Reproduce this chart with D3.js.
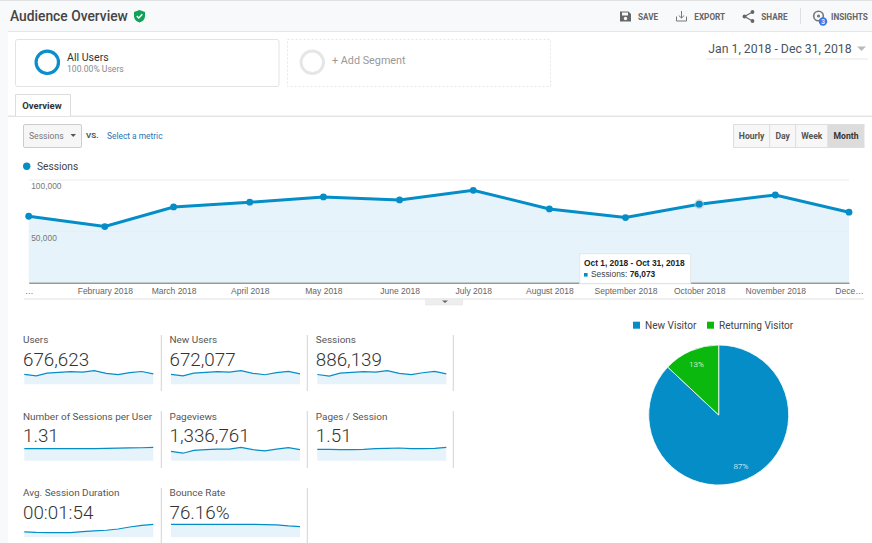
<!DOCTYPE html>
<html>
<head>
<meta charset="utf-8">
<script src="https://cdn.jsdelivr.net/npm/d3@7"></script>
<style>
html, body { margin: 0; padding: 0; background: #fff; overflow: hidden; }
text { font-family: Roboto, sans-serif; }
.gc text, .gc { font-family: "Liberation Sans", Arial, sans-serif; }
</style>
</head>
<body>
<div id="chart"></div>
<script>
// monthly data
const months = ['2018-01-01','2018-02-01','2018-03-01','2018-04-01','2018-05-01','2018-06-01','2018-07-01','2018-08-01','2018-09-01','2018-10-01','2018-11-01','2018-12-01']
const monthLabels = ['…','February 2018','March 2018','April 2018','May 2018','June 2018','July 2018','August 2018','September 2018','October 2018','November 2018','Dece…']
const sessions = [64400,54400,73400,78000,83100,80200,89500,71500,63100,76073,85000,68300]
const yTicks = [50000,100000]

const users = [50000,42000,56000,60000,63000,61000,68000,55000,48000,58000,64000,52000]
const newUsers = [49500,41500,55500,59500,62500,60500,67500,54500,47500,57500,64000,52000]
const sessionsPerUser = [1.27,1.27,1.27,1.27,1.27,1.27,1.29,1.31,1.33,1.35,1.37,1.42]
const pageviews = [94000,76000,105000,112000,118000,118000,136000,112000,100000,118000,132000,112000]
const pagesPerSession = [1.44,1.44,1.40,1.40,1.44,1.53,1.57,1.61,1.53,1.53,1.57,1.70]
const avgDuration = [85,77,75,75,75,91,101,112,132,164,191,207]
const bounceRate = [78,78,78,78,78,78,78,78,76,74,68,64]

const metricNames = ['Users','New Users','Sessions','Number of Sessions per User','Pageviews','Pages / Session','Avg. Session Duration','Bounce Rate']
const metricTotals = ['676,623','672,077','886,139','1.31','1,336,761','1.51','00:01:54','76.16%']
const metricSeries = [users,newUsers,sessions,sessionsPerUser,pageviews,pagesPerSession,avgDuration,bounceRate]

const visitorTypes = ['New Visitor','Returning Visitor']
const visitorShare = [87,13]
const intervals = ['Hourly','Day','Week','Month']

const blue = '#058dc7', paleBlue = '#e6f3fb', green = '#0ab80e'
const dates = months.map(d=>new Date(d + 'T00:00:00'))

const svg = d3.select('#chart').append('svg')
    .attr('width', 872)
    .attr('height', 543)
    .style('display', 'block')

// page chrome
svg.append('rect').attr('width',872).attr('height',543).attr('fill','#fff')
svg.append('rect').attr('width',8).attr('height',543).attr('fill','#f8f9fa')
svg.append('rect').attr('width',872).attr('height',31.5).attr('fill','#f8f9fa')
svg.append('rect').attr('width',872).attr('height',1).attr('fill','#dfe1e3')
svg.append('rect').attr('x',8).attr('y',31).attr('width',864).attr('height',1).attr('fill','#e6e6e6')

function label(x, y, str, size, color, weight, anchor){
    return svg.append('text')
    .attr('x', x)
    .attr('y', y)
    .attr('font-size', size)
    .attr('fill', color)
    .attr('font-weight', weight || 400)
    .attr('text-anchor', anchor || 'start')
    .text(str)
}

label(10, 21, 'Audience Overview', 13.8, '#444', 500)
svg.append('path')
    .attr('d','M139.5 10 L145 12 V16 C145 19.5 142.5 21.5 139.5 22.5 C136.5 21.5 134 19.5 134 16 V12 Z')
    .attr('fill','#12a15b')
svg.append('path')
    .attr('d','M136.8 16 L138.8 18 L142.3 14.3')
    .attr('fill','none').attr('stroke','#fff').attr('stroke-width',1.4)

// save / export / share / insights
svg.append('path')
    .attr('d','M620 11.5 H628.5 L631 14 V21.5 H620 Z M622 12.5 V15.5 H628 V12.5 Z')
    .attr('fill','#666').attr('fill-rule','evenodd')
svg.append('circle').attr('cx',625.5).attr('cy',18.5).attr('r',1.7).attr('fill','#f8f9fa')
label(638, 20, 'SAVE', 8.2, '#666', 700)
svg.append('path')
    .attr('d','M676.5 16.5 V21 H686.5 V16.5 M681.5 11 V18 M678.8 15.5 L681.5 18 L684.2 15.5')
    .attr('fill','none').attr('stroke','#777').attr('stroke-width',1)
label(694.3, 20, 'EXPORT', 8.2, '#666', 700)
svg.append('path')
    .attr('d','M752.5 12 L744.5 16.5 L752.5 21')
    .attr('fill','none').attr('stroke','#666').attr('stroke-width',1.1)
svg.selectAll('.share-dot')
    .data([[752.5,12],[744.5,16.5],[752.5,21]])
    .enter()
    .append('circle')
    .attr('cx', d=>d[0]).attr('cy', d=>d[1]).attr('r',1.9).attr('fill','#666')
label(761.3, 20, 'SHARE', 8.2, '#666', 700)
svg.append('rect').attr('x',800).attr('y',8).attr('width',1).attr('height',16).attr('fill','#e0e0e0')
svg.append('circle').attr('cx',818.5).attr('cy',16).attr('r',4.8).attr('fill','none').attr('stroke','#777').attr('stroke-width',1.6)
svg.append('circle').attr('cx',818.5).attr('cy',16).attr('r',1.6).attr('fill','#777')
svg.append('circle').attr('cx',823).attr('cy',21.5).attr('r',4.2).attr('fill','#3b78e7')
label(823, 23.8, '3', 6.5, '#fff', 500, 'middle')
label(831, 20, 'INSIGHTS', 8.2, '#666', 700)

// segments
svg.append('rect').attr('x',15.5).attr('y',39.5).attr('width',263.5).attr('height',47)
    .attr('rx',2).attr('fill','#fff').attr('stroke','#e3e3e3')
svg.append('circle').attr('cx',47.3).attr('cy',62.3).attr('r',11.2)
    .attr('fill','none').attr('stroke','#0b8ecb').attr('stroke-width',3.2)
label(67, 60.5, 'All Users', 10.6, '#333')
label(67, 71.5, '100.00% Users', 8.6, '#8a8a8a')
svg.append('rect').attr('x',287.5).attr('y',39.5).attr('width',263).attr('height',47)
    .attr('fill','#fff').attr('stroke','#e6e6e6').attr('stroke-dasharray','2,2')
svg.append('circle').attr('cx',312.3).attr('cy',62.3).attr('r',11.2)
    .attr('fill','none').attr('stroke','#e6e6e6').attr('stroke-width',3)
label(332, 64.3, '+ Add Segment', 10.8, '#999')

// date range
label(708.3, 52.8, 'Jan 1, 2018 - Dec 31, 2018', 12.25, '#4a5560')
svg.append('path').attr('d','M857 46.5 H866 L861.5 51 Z').attr('fill','#bbb')
svg.append('rect').attr('x',706).attr('y',58.5).attr('width',162).attr('height',1).attr('fill','#e8e8e8')

// tab
svg.append('rect').attr('x',8).attr('y',115.5).attr('width',864).attr('height',1.5).attr('fill','#e4e4e4')
svg.append('path').attr('d','M15.5 116 V94.5 H70.5 V116').attr('fill','#fff').attr('stroke','#dcdcdc')
label(22.3, 108.8, 'Overview', 9.5, '#333', 700)

// metric dropdown
svg.append('rect').attr('x',23.5).attr('y',124.5).attr('width',58).attr('height',23)
    .attr('rx',1.5).attr('fill','#f6f6f6').attr('stroke','#ccc')
label(29, 138.8, 'Sessions', 8.6, '#777')
svg.append('path').attr('d','M70.5 134 H76 L73.2 137 Z').attr('fill','#555')
label(86, 138, 'VS.', 8, '#555', 700)
label(107, 138.8, 'Select a metric', 8.4, '#2a75b3')

// interval buttons
const btnEdges = [733.5,769.7,795.7,828,864]
svg.selectAll('.btn')
    .data(intervals)
    .enter()
    .append('rect')
    .attr('class','btn')
    .attr('x', (d,i)=>btnEdges[i])
    .attr('y', 124.5)
    .attr('width', (d,i)=>btnEdges[i+1]-btnEdges[i])
    .attr('height', 23)
    .attr('fill', d=> d == 'Month' ? '#dcdcdc' : '#f7f7f7')
    .attr('stroke', '#dedede')
svg.selectAll('.btn-text')
    .data(intervals)
    .enter()
    .append('text')
    .attr('x', (d,i)=>(btnEdges[i]+btnEdges[i+1])/2)
    .attr('y', 138.8)
    .attr('text-anchor','middle')
    .attr('font-size', 8.6)
    .attr('font-weight', 700)
    .attr('fill', d=> d == 'Month' ? '#333' : '#555')
    .text(d=>d)

// main chart legend
svg.append('circle').attr('cx',26.7).attr('cy',166.3).attr('r',3.7).attr('fill',blue)
label(37, 170, 'Sessions', 10.2, '#444')

const xScale = d3.scaleTime()
    .domain([dates[0], dates[11]])
    .range([28.7, 849])
const yScale = d3.scaleLinear()
    .domain([0, 100000])
    .range([282.7, 179.5])

const area = d3.area().x((d,i)=>xScale(dates[i])).y0(yScale(0)).y1(d=>yScale(d))
const line = d3.line().x((d,i)=>xScale(dates[i])).y(d=>yScale(d))

svg.append('path').attr('d', area(sessions)).attr('fill', paleBlue)

const yAxis = svg.append('g')
    .attr('class','gc')
    .attr('transform','translate(28.7,0)')
    .call(d3.axisRight(yScale).tickValues(yTicks).tickSize(820.3).tickFormat(d3.format(',')))
yAxis.select('.domain').remove()
yAxis.selectAll('line').attr('stroke','#ececec')
yAxis.selectAll('text')
    .attr('x', 2.5)
    .attr('dy', 9.3)
    .attr('font-size', 8.4)
    .attr('fill', '#777')

const xAxis = svg.append('g')
    .attr('class','gc')
    .attr('transform','translate(0,282.7)')
    .call(d3.axisBottom(xScale).tickValues(dates).tickSize(0).tickFormat((d,i)=>monthLabels[i]))
xAxis.select('.domain').attr('stroke','#999').attr('stroke-width',1.6)
xAxis.selectAll('text')
    .attr('y', 11)
    .attr('dy', 0)
    .attr('font-size', 8.5)
    .attr('fill', '#666')

svg.append('path')
    .attr('d', line(sessions))
    .attr('fill','none')
    .attr('stroke', blue)
    .attr('stroke-width', 3)

svg.append('circle')
    .attr('cx', xScale(dates[9])).attr('cy', yScale(sessions[9]))
    .attr('r', 5).attr('fill','#bbb').attr('opacity',0.55)
svg.selectAll('.dot')
    .data(sessions)
    .enter()
    .append('circle')
    .attr('class','dot')
    .attr('cx', (d,i)=>xScale(dates[i]))
    .attr('cy', d=>yScale(d))
    .attr('r', 3.4)
    .attr('fill', blue)

// tooltip
svg.append('rect').attr('x',579.7).attr('y',253.7).attr('width',111).attr('height',30)
    .attr('fill','#fff').attr('stroke','#e4e4e4')
svg.append('text').attr('class','gc').attr('x',584).attr('y',265.8)
    .attr('font-size',8.4).attr('font-weight',700).attr('fill','#222')
    .text('Oct 1, 2018 - Oct 31, 2018')
svg.append('rect').attr('x',584).attr('y',273).attr('width',3.6).attr('height',3.6).attr('fill',blue)
const tip = svg.append('text').attr('class','gc').attr('x',591).attr('y',276.6)
    .attr('font-size',8.4).attr('fill','#444')
tip.append('tspan').text('Sessions: ')
tip.append('tspan').attr('font-weight',700).attr('fill','#222').text(d3.format(',')(sessions[9]))

// drag handle under the chart
svg.append('rect').attr('x',24).attr('y',298.5).attr('width',840).attr('height',1).attr('fill','#e2e2e2')
svg.append('rect').attr('x',425.7).attr('y',299).attr('width',37).attr('height',6).attr('fill','#eee').attr('stroke','#e2e2e2').attr('stroke-width',0.5)
svg.append('path').attr('d','M442 300.5 H448 L445 303 Z').attr('fill','#666')

// metric table
const colX = [24.3, 171, 317.3]
const colText = [23, 169.5, 315.8]
const rowBottom = [384.3, 460.7, 537.3]
const rowTop = [370.7, 447.3, 524.3]
const rowName = [343, 419.5, 496]
const rowTotal = [365.7, 442.2, 518.7]
const sparkW = 129
const timeX = d3.scaleTime().domain([dates[0], dates[11]])

metricNames.forEach((name,k)=>{
    const col = k % 3, row = Math.floor(k / 3)
    const vals = metricSeries[k]
    const sx = timeX.copy().range([colX[col], colX[col] + sparkW])
    const sy = d3.scaleLinear().domain([0, d3.max(vals)]).range([rowBottom[row], rowTop[row]])

    label(colText[col], rowName[row], name, 9.95, '#555')
    label(colText[col], rowTotal[row], metricTotals[k], 18.8, '#333', 300)

    svg.append('path')
    .attr('d', d3.area().x((d,i)=>sx(dates[i])).y0(sy(0)).y1(d=>sy(d))(vals))
    .attr('fill', paleBlue)
    svg.append('path')
    .attr('d', d3.line().x((d,i)=>sx(dates[i])).y(d=>sy(d))(vals))
    .attr('fill','none')
    .attr('stroke', blue)
    .attr('stroke-width', 1.2)
})

// separators between metrics
const sepX = [161.3, 307.3, 453.3]
const sepRows = [[335,391,3],[411,468,3],[488,543,2]]
sepRows.forEach(r=>{
    svg.selectAll(null)
    .data(sepX.slice(0, r[2]))
    .enter()
    .append('line')
    .attr('x1', d=>d).attr('x2', d=>d)
    .attr('y1', r[0]).attr('y2', r[1])
    .attr('stroke', '#d2d2d2')
})

// pie
const pieColors = d3.scaleOrdinal().domain(visitorTypes).range([blue, green])
const pie = d3.pie().sort(null)
const arc = d3.arc().innerRadius(0).outerRadius(70)
const pieG = svg.append('g').attr('transform','translate(718.7,415)')
pieG.selectAll('path')
    .data(pie(visitorShare))
    .enter()
    .append('path')
    .attr('d', arc)
    .attr('fill', (d,i)=>pieColors(visitorTypes[i]))
    .attr('stroke','#fff')
    .attr('stroke-width',0.8)
const labelArc = d3.arc().innerRadius(56).outerRadius(56)
pieG.selectAll('text')
    .data(pie(visitorShare))
    .enter()
    .append('text')
    .attr('transform', d=>`translate(${labelArc.centroid(d)})`)
    .attr('text-anchor','middle')
    .attr('dy', 3)
    .attr('font-size', 8)
    .attr('font-weight', 300)
    .attr('fill', '#fff')
    .text(d=>`${d.value}%`)

// pie legend
const legendX = [633, 707]
svg.selectAll('.pie-key')
    .data(visitorTypes)
    .enter()
    .append('rect')
    .attr('class','pie-key')
    .attr('x', (d,i)=>legendX[i])
    .attr('y', 321.7)
    .attr('width', 7)
    .attr('height', 7)
    .attr('fill', d=>pieColors(d))
svg.selectAll('.pie-key-text')
    .data(visitorTypes)
    .enter()
    .append('text')
    .attr('x', (d,i)=>legendX[i] + 12)
    .attr('y', 328.5)
    .attr('font-size', 10.05)
    .attr('fill', '#444')
    .text(d=>d)
</script>
</body>
</html>
